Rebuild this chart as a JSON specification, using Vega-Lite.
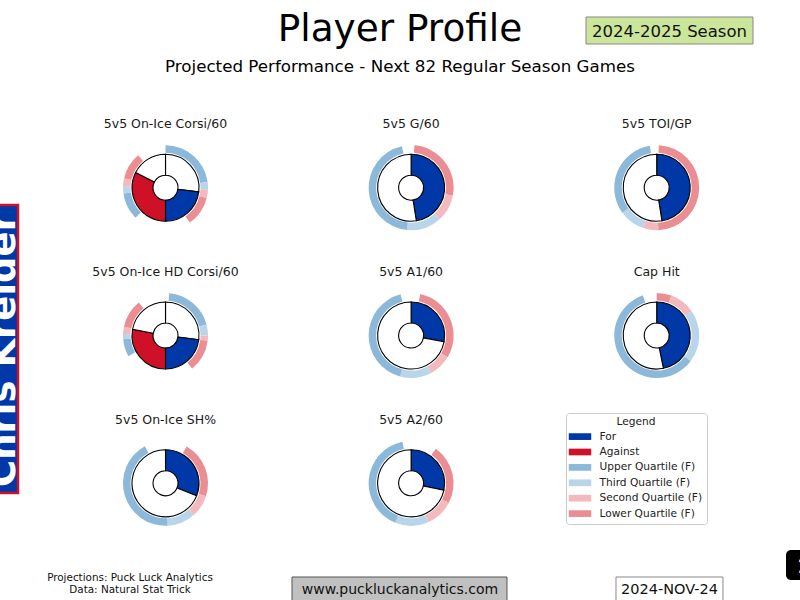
{
  "$schema": "https://vega.github.io/schema/vega-lite/v6.json",
  "width": 800,
  "height": 600,
  "padding": 0,
  "autosize": "none",
  "background": "white",
  "config": {
    "view": {"stroke": null},
    "font": "DejaVu Sans",
    "legend": {
      "orient": "none",
      "legendX": 566,
      "legendY": 413,
      "titleAnchor": "middle",
      "titleFontWeight": "normal",
      "titleFontSize": 10.6,
      "titleColor": "#222222",
      "labelFontSize": 10.6,
      "labelColor": "#222222",
      "padding": 4,
      "fillColor": "white",
      "strokeColor": "#cccccc",
      "cornerRadius": 3,
      "symbolType": "M-2.04,-0.61H2.04V0.61H-2.04Z",
      "symbolSize": 121,
      "symbolStrokeWidth": 0,
      "symbolOffset": 4.5,
      "labelOffset": 14,
      "rowPadding": 3.4,
      "titlePadding": 3.5
    }
  },
  "datasets": {
    "donut": [
      {"metric": "5v5 On-Ice Corsi/60", "col": 1, "row": 1, "part": "Blank", "start": 0, "end": 27},
      {"metric": "5v5 On-Ice Corsi/60", "col": 1, "row": 1, "part": "For", "start": 27, "end": 50},
      {"metric": "5v5 On-Ice Corsi/60", "col": 1, "row": 1, "part": "Against", "start": 50, "end": 82.5},
      {"metric": "5v5 On-Ice Corsi/60", "col": 1, "row": 1, "part": "Blank", "start": 82.5, "end": 100},
      {"metric": "5v5 On-Ice HD Corsi/60", "col": 1, "row": 2, "part": "Blank", "start": 0, "end": 27},
      {"metric": "5v5 On-Ice HD Corsi/60", "col": 1, "row": 2, "part": "For", "start": 27, "end": 50},
      {"metric": "5v5 On-Ice HD Corsi/60", "col": 1, "row": 2, "part": "Against", "start": 50, "end": 78},
      {"metric": "5v5 On-Ice HD Corsi/60", "col": 1, "row": 2, "part": "Blank", "start": 78, "end": 100},
      {"metric": "5v5 On-Ice SH%", "col": 1, "row": 3, "part": "For", "start": 0, "end": 31.1},
      {"metric": "5v5 On-Ice SH%", "col": 1, "row": 3, "part": "Blank", "start": 31.1, "end": 100},
      {"metric": "5v5 G/60", "col": 2, "row": 1, "part": "For", "start": 0, "end": 47.5},
      {"metric": "5v5 G/60", "col": 2, "row": 1, "part": "Blank", "start": 47.5, "end": 100},
      {"metric": "5v5 A1/60", "col": 2, "row": 2, "part": "For", "start": 0, "end": 28},
      {"metric": "5v5 A1/60", "col": 2, "row": 2, "part": "Blank", "start": 28, "end": 100},
      {"metric": "5v5 A2/60", "col": 2, "row": 3, "part": "For", "start": 0, "end": 28.3},
      {"metric": "5v5 A2/60", "col": 2, "row": 3, "part": "Blank", "start": 28.3, "end": 100},
      {"metric": "5v5 TOI/GP", "col": 3, "row": 1, "part": "For", "start": 0, "end": 47.5},
      {"metric": "5v5 TOI/GP", "col": 3, "row": 1, "part": "Blank", "start": 47.5, "end": 100},
      {"metric": "Cap Hit", "col": 3, "row": 2, "part": "For", "start": 0, "end": 46.8},
      {"metric": "Cap Hit", "col": 3, "row": 2, "part": "Blank", "start": 46.8, "end": 100}
    ],
    "ring": [
      {"metric": "5v5 On-Ice Corsi/60", "col": 1, "row": 1, "part": "Upper Quartile (F)", "start": 0, "end": 22.8},
      {"metric": "5v5 On-Ice Corsi/60", "col": 1, "row": 1, "part": "Third Quartile (F)", "start": 22.8, "end": 25.8},
      {"metric": "5v5 On-Ice Corsi/60", "col": 1, "row": 1, "part": "Second Quartile (F)", "start": 25.8, "end": 28.9},
      {"metric": "5v5 On-Ice Corsi/60", "col": 1, "row": 1, "part": "Lower Quartile (F)", "start": 28.9, "end": 40.3},
      {"metric": "5v5 On-Ice Corsi/60", "col": 1, "row": 1, "part": "Upper Quartile (F)", "start": 62.5, "end": 72.8},
      {"metric": "5v5 On-Ice Corsi/60", "col": 1, "row": 1, "part": "Third Quartile (F)", "start": 72.8, "end": 75.6},
      {"metric": "5v5 On-Ice Corsi/60", "col": 1, "row": 1, "part": "Second Quartile (F)", "start": 75.6, "end": 78.6},
      {"metric": "5v5 On-Ice Corsi/60", "col": 1, "row": 1, "part": "Lower Quartile (F)", "start": 78.6, "end": 88.9},
      {"metric": "5v5 On-Ice HD Corsi/60", "col": 1, "row": 2, "part": "Upper Quartile (F)", "start": 1.4, "end": 20.8},
      {"metric": "5v5 On-Ice HD Corsi/60", "col": 1, "row": 2, "part": "Third Quartile (F)", "start": 20.8, "end": 25},
      {"metric": "5v5 On-Ice HD Corsi/60", "col": 1, "row": 2, "part": "Second Quartile (F)", "start": 25, "end": 27},
      {"metric": "5v5 On-Ice HD Corsi/60", "col": 1, "row": 2, "part": "Lower Quartile (F)", "start": 27, "end": 39.2},
      {"metric": "5v5 On-Ice HD Corsi/60", "col": 1, "row": 2, "part": "Upper Quartile (F)", "start": 66.9, "end": 73.6},
      {"metric": "5v5 On-Ice HD Corsi/60", "col": 1, "row": 2, "part": "Third Quartile (F)", "start": 73.6, "end": 75.6},
      {"metric": "5v5 On-Ice HD Corsi/60", "col": 1, "row": 2, "part": "Second Quartile (F)", "start": 75.6, "end": 78.3},
      {"metric": "5v5 On-Ice HD Corsi/60", "col": 1, "row": 2, "part": "Lower Quartile (F)", "start": 78.3, "end": 89.2},
      {"metric": "5v5 G/60", "col": 2, "row": 1, "part": "Lower Quartile (F)", "start": 1.25, "end": 28},
      {"metric": "5v5 G/60", "col": 2, "row": 1, "part": "Second Quartile (F)", "start": 28, "end": 38.3},
      {"metric": "5v5 G/60", "col": 2, "row": 1, "part": "Third Quartile (F)", "start": 38.3, "end": 51.5},
      {"metric": "5v5 G/60", "col": 2, "row": 1, "part": "Upper Quartile (F)", "start": 51.5, "end": 96.5},
      {"metric": "5v5 TOI/GP", "col": 3, "row": 1, "part": "Lower Quartile (F)", "start": 0.8, "end": 49.4},
      {"metric": "5v5 TOI/GP", "col": 3, "row": 1, "part": "Second Quartile (F)", "start": 49.4, "end": 55.2},
      {"metric": "5v5 TOI/GP", "col": 3, "row": 1, "part": "Third Quartile (F)", "start": 55.2, "end": 65},
      {"metric": "5v5 TOI/GP", "col": 3, "row": 1, "part": "Upper Quartile (F)", "start": 65, "end": 97.4},
      {"metric": "5v5 A1/60", "col": 2, "row": 2, "part": "Lower Quartile (F)", "start": 3.5, "end": 33.6},
      {"metric": "5v5 A1/60", "col": 2, "row": 2, "part": "Second Quartile (F)", "start": 33.6, "end": 42.2},
      {"metric": "5v5 A1/60", "col": 2, "row": 2, "part": "Third Quartile (F)", "start": 42.2, "end": 54.2},
      {"metric": "5v5 A1/60", "col": 2, "row": 2, "part": "Upper Quartile (F)", "start": 54.2, "end": 96},
      {"metric": "Cap Hit", "col": 3, "row": 2, "part": "Lower Quartile (F)", "start": 0, "end": 5.6},
      {"metric": "Cap Hit", "col": 3, "row": 2, "part": "Second Quartile (F)", "start": 5.6, "end": 15.3},
      {"metric": "Cap Hit", "col": 3, "row": 2, "part": "Third Quartile (F)", "start": 15.3, "end": 35.3},
      {"metric": "Cap Hit", "col": 3, "row": 2, "part": "Upper Quartile (F)", "start": 35.3, "end": 94.7},
      {"metric": "5v5 On-Ice SH%", "col": 1, "row": 3, "part": "Lower Quartile (F)", "start": 8.25, "end": 29.9},
      {"metric": "5v5 On-Ice SH%", "col": 1, "row": 3, "part": "Second Quartile (F)", "start": 29.9, "end": 38.3},
      {"metric": "5v5 On-Ice SH%", "col": 1, "row": 3, "part": "Third Quartile (F)", "start": 38.3, "end": 49.2},
      {"metric": "5v5 On-Ice SH%", "col": 1, "row": 3, "part": "Upper Quartile (F)", "start": 49.2, "end": 91.9},
      {"metric": "5v5 A2/60", "col": 2, "row": 3, "part": "Lower Quartile (F)", "start": 9.9, "end": 32.7},
      {"metric": "5v5 A2/60", "col": 2, "row": 3, "part": "Second Quartile (F)", "start": 32.7, "end": 43.3},
      {"metric": "5v5 A2/60", "col": 2, "row": 3, "part": "Third Quartile (F)", "start": 43.3, "end": 56.1},
      {"metric": "5v5 A2/60", "col": 2, "row": 3, "part": "Upper Quartile (F)", "start": 56.1, "end": 96.7}
    ],
    "panels": [
      {"metric": "5v5 On-Ice Corsi/60", "col": 1, "row": 1},
      {"metric": "5v5 G/60", "col": 2, "row": 1},
      {"metric": "5v5 TOI/GP", "col": 3, "row": 1},
      {"metric": "5v5 On-Ice HD Corsi/60", "col": 1, "row": 2},
      {"metric": "5v5 A1/60", "col": 2, "row": 2},
      {"metric": "Cap Hit", "col": 3, "row": 2},
      {"metric": "5v5 On-Ice SH%", "col": 1, "row": 3},
      {"metric": "5v5 A2/60", "col": 2, "row": 3}
    ]
  },
  "layer": [
    {
      "data": {"values": [{}]},
      "mark": {"type": "rect", "fill": "#0038A8", "stroke": "#CE1126", "strokeWidth": 2.5},
      "encoding": {
        "x": {"datum": 0.1632, "type": "quantitative", "scale": {"domain": [0.3261, 3.5834], "nice": false, "zero": false}, "axis": null},
        "x2": {"datum": 0.3994},
        "y": {"datum": 1.117, "type": "quantitative", "scale": {"domain": [-0.27, 3.7895], "nice": false, "zero": false, "reverse": true}, "axis": null},
        "y2": {"datum": 3.0655}
      }
    },
    {
      "data": {"values": [{}]},
      "mark": {"type": "text", "text": "Chris Kreider", "angle": 270, "align": "center", "baseline": "alphabetic", "fontSize": 37, "fontWeight": "bold", "color": "white"},
      "encoding": {
        "x": {"datum": 0.3872, "type": "quantitative", "scale": {"domain": [0.3261, 3.5834], "nice": false, "zero": false}, "axis": null},
        "y": {"datum": 2.098, "type": "quantitative", "scale": {"domain": [-0.27, 3.7895], "nice": false, "zero": false, "reverse": true}, "axis": null}
      }
    },
    {
      "data": {"name": "ring"},
      "mark": {"type": "arc", "radius": 42.5, "radius2": 35},
      "encoding": {
        "x": {"field": "col", "type": "quantitative", "scale": {"domain": [0.3261, 3.5834], "nice": false, "zero": false}, "axis": null},
        "y": {"field": "row", "type": "quantitative", "scale": {"domain": [-0.27, 3.7895], "nice": false, "zero": false, "reverse": true}, "axis": null},
        "theta": {"field": "start", "type": "quantitative", "scale": {"domain": [0, 100]}, "stack": null},
        "theta2": {"field": "end"},
        "color": {
          "field": "part", "type": "nominal",
          "scale": {
            "domain": ["For", "Against", "Upper Quartile (F)", "Third Quartile (F)", "Second Quartile (F)", "Lower Quartile (F)", "Blank"],
            "range": ["#0038A8", "#CE1126", "#8CB8DA", "#B9D5EA", "#F4B9BC", "#EA8E93", "#FFFFFF"]
          },
          "legend": {"title": "Legend", "values": ["For", "Against", "Upper Quartile (F)", "Third Quartile (F)", "Second Quartile (F)", "Lower Quartile (F)"]}
        }
      }
    },
    {
      "data": {"name": "donut"},
      "mark": {"type": "arc", "radius": 33.5, "radius2": 12.5, "stroke": "black", "strokeWidth": 1.1},
      "encoding": {
        "x": {"field": "col", "type": "quantitative", "scale": {"domain": [0.3261, 3.5834], "nice": false, "zero": false}, "axis": null},
        "y": {"field": "row", "type": "quantitative", "scale": {"domain": [-0.27, 3.7895], "nice": false, "zero": false, "reverse": true}, "axis": null},
        "theta": {"field": "start", "type": "quantitative", "scale": {"domain": [0, 100]}, "stack": null},
        "theta2": {"field": "end"},
        "color": {"field": "part", "type": "nominal"}
      }
    },
    {
      "data": {"name": "panels"},
      "mark": {"type": "text", "dy": -63.5, "baseline": "middle", "align": "center", "fontSize": 12.5, "color": "#1a1a1a"},
      "encoding": {
        "x": {"field": "col", "type": "quantitative", "scale": {"domain": [0.3261, 3.5834], "nice": false, "zero": false}, "axis": null},
        "y": {"field": "row", "type": "quantitative", "scale": {"domain": [-0.27, 3.7895], "nice": false, "zero": false, "reverse": true}, "axis": null},
        "text": {"field": "metric"}
      }
    },
    {
      "data": {"values": [{}]},
      "mark": {"type": "text", "text": "Player Profile", "align": "center", "baseline": "alphabetic", "fontSize": 37.4, "color": "black"},
      "encoding": {
        "x": {"datum": 1.9547, "type": "quantitative", "scale": {"domain": [0.3261, 3.5834], "nice": false, "zero": false}, "axis": null},
        "y": {"datum": 0.0074, "type": "quantitative", "scale": {"domain": [-0.27, 3.7895], "nice": false, "zero": false, "reverse": true}, "axis": null}
      }
    },
    {
      "data": {"values": [{}]},
      "mark": {"type": "text", "text": "Projected Performance - Next 82 Regular Season Games", "align": "center", "baseline": "alphabetic", "fontSize": 16.7, "color": "black"},
      "encoding": {
        "x": {"datum": 1.9547, "type": "quantitative", "scale": {"domain": [0.3261, 3.5834], "nice": false, "zero": false}, "axis": null},
        "y": {"datum": 0.2171, "type": "quantitative", "scale": {"domain": [-0.27, 3.7895], "nice": false, "zero": false, "reverse": true}, "axis": null}
      }
    },
    {
      "data": {"values": [{}]},
      "mark": {"type": "rect", "fill": "#CBE59B", "stroke": "#888888", "strokeWidth": 1},
      "encoding": {
        "x": {"datum": 2.7121, "type": "quantitative", "scale": {"domain": [0.3261, 3.5834], "nice": false, "zero": false}, "axis": null},
        "x2": {"datum": 3.392},
        "y": {"datum": -0.155, "type": "quantitative", "scale": {"domain": [-0.27, 3.7895], "nice": false, "zero": false, "reverse": true}, "axis": null},
        "y2": {"datum": 0.0277}
      }
    },
    {
      "data": {"values": [{}]},
      "mark": {"type": "text", "text": "2024-2025 Season", "align": "center", "baseline": "alphabetic", "fontSize": 16.5, "color": "#111111"},
      "encoding": {
        "x": {"datum": 3.052, "type": "quantitative", "scale": {"domain": [0.3261, 3.5834], "nice": false, "zero": false}, "axis": null},
        "y": {"datum": -0.0217, "type": "quantitative", "scale": {"domain": [-0.27, 3.7895], "nice": false, "zero": false, "reverse": true}, "axis": null}
      }
    },
    {
      "data": {"values": [{}]},
      "mark": {"type": "text", "text": ["Projections: Puck Luck Analytics", "Data: Natural Stat Trick"], "align": "center", "baseline": "alphabetic", "fontSize": 10.4, "lineHeight": 12, "color": "#111111"},
      "encoding": {
        "x": {"datum": 0.8554, "type": "quantitative", "scale": {"domain": [0.3261, 3.5834], "nice": false, "zero": false}, "axis": null},
        "y": {"datum": 3.6643, "type": "quantitative", "scale": {"domain": [-0.27, 3.7895], "nice": false, "zero": false, "reverse": true}, "axis": null}
      }
    },
    {
      "data": {"values": [{}]},
      "mark": {"type": "rect", "fill": "#C0C0C0", "stroke": "#555555", "strokeWidth": 1},
      "encoding": {
        "x": {"datum": 1.515, "type": "quantitative", "scale": {"domain": [0.3261, 3.5834], "nice": false, "zero": false}, "axis": null},
        "x2": {"datum": 2.3904},
        "y": {"datum": 3.6339, "type": "quantitative", "scale": {"domain": [-0.27, 3.7895], "nice": false, "zero": false, "reverse": true}, "axis": null},
        "y2": {"datum": 3.7963}
      }
    },
    {
      "data": {"values": [{}]},
      "mark": {"type": "text", "text": "www.puckluckanalytics.com", "align": "center", "baseline": "alphabetic", "fontSize": 14, "color": "#111111"},
      "encoding": {
        "x": {"datum": 1.9547, "type": "quantitative", "scale": {"domain": [0.3261, 3.5834], "nice": false, "zero": false}, "axis": null},
        "y": {"datum": 3.7489, "type": "quantitative", "scale": {"domain": [-0.27, 3.7895], "nice": false, "zero": false, "reverse": true}, "axis": null}
      }
    },
    {
      "data": {"values": [{}]},
      "mark": {"type": "rect", "fill": "white", "stroke": "#888888", "strokeWidth": 1},
      "encoding": {
        "x": {"datum": 2.8342, "type": "quantitative", "scale": {"domain": [0.3261, 3.5834], "nice": false, "zero": false}, "axis": null},
        "x2": {"datum": 3.2698},
        "y": {"datum": 3.6339, "type": "quantitative", "scale": {"domain": [-0.27, 3.7895], "nice": false, "zero": false, "reverse": true}, "axis": null},
        "y2": {"datum": 3.7963}
      }
    },
    {
      "data": {"values": [{}]},
      "mark": {"type": "text", "text": "2024-NOV-24", "align": "center", "baseline": "alphabetic", "fontSize": 14.5, "color": "#111111"},
      "encoding": {
        "x": {"datum": 3.052, "type": "quantitative", "scale": {"domain": [0.3261, 3.5834], "nice": false, "zero": false}, "axis": null},
        "y": {"datum": 3.7489, "type": "quantitative", "scale": {"domain": [-0.27, 3.7895], "nice": false, "zero": false, "reverse": true}, "axis": null}
      }
    },
    {
      "data": {"values": [{}]},
      "mark": {"type": "rect", "fill": "black", "cornerRadius": 5},
      "encoding": {
        "x": {"datum": 3.5264, "type": "quantitative", "scale": {"domain": [0.3261, 3.5834], "nice": false, "zero": false}, "axis": null},
        "x2": {"datum": 3.6649},
        "y": {"datum": 3.4512, "type": "quantitative", "scale": {"domain": [-0.27, 3.7895], "nice": false, "zero": false, "reverse": true}, "axis": null},
        "y2": {"datum": 3.6542}
      }
    },
    {
      "data": {"values": [{}]},
      "mark": {"type": "text", "text": "1", "align": "left", "baseline": "alphabetic", "fontSize": 20, "fontWeight": "bold", "color": "white"},
      "encoding": {
        "x": {"datum": 3.5712, "type": "quantitative", "scale": {"domain": [0.3261, 3.5834], "nice": false, "zero": false}, "axis": null},
        "y": {"datum": 3.6068, "type": "quantitative", "scale": {"domain": [-0.27, 3.7895], "nice": false, "zero": false, "reverse": true}, "axis": null}
      }
    }
  ]
}
